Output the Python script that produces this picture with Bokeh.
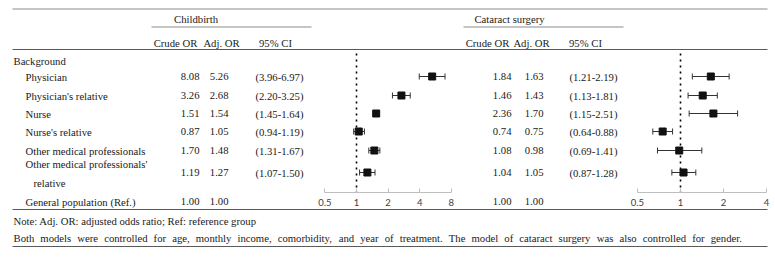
from bokeh.plotting import figure
from bokeh.models import Range1d, ColumnDataSource, FixedTicker, LogAxis, LogScale
from bokeh.core.properties import value
from bokeh.embed import file_html
from bokeh.resources import INLINE

# ---------------- data ----------------
row_labels = ["Physician", "Physician's relative", "Nurse", "Nurse's relative",
              "Other medical professionals", "Other medical professionals'\nrelative",
              "General population (Ref.)"]
cb_crude = [8.08, 3.26, 1.51, 0.87, 1.70, 1.19, 1.00]
cb_adj = [5.26, 2.68, 1.54, 1.05, 1.48, 1.27, 1.00]
cb_lo = [3.96, 2.20, 1.45, 0.94, 1.31, 1.07]
cb_hi = [6.97, 3.25, 1.64, 1.19, 1.67, 1.50]
ca_crude = [1.84, 1.46, 2.36, 0.74, 1.08, 1.04, 1.00]
ca_adj = [1.63, 1.43, 1.70, 0.75, 0.98, 1.05, 1.00]
ca_lo = [1.21, 1.13, 1.15, 0.64, 0.69, 0.87]
ca_hi = [2.19, 1.81, 2.51, 0.88, 1.41, 1.28]
cb_ticks = [0.5, 1, 2, 4, 8]
ca_ticks = [0.5, 1, 2, 4]
group_titles = ["Childbirth", "Cataract surgery"]
col_headers = ["Crude OR", "Adj. OR", "95% CI"]
section = "Background"
notes = ["Note: Adj. OR: adjusted odds ratio; Ref: reference group",
         "Both models were controlled for age, monthly income, comorbidity, and year of treatment. The model of cataract surgery was also controlled for gender."]

# ---------------- layout constants (page pixels) ----------------
W, H = 775, 257
FONT = value("Liberation Serif")
FS_PX = 10.7
FS = f"{FS_PX}px"
TXT = "#1a1a1a"
DARK = "#5a5a5a"
LIGHT = "#8c8c8c"
ROW_Y = [76, 95, 113, 131, 150, 172, 201]
LAB2_Y = (163, 182)
Y_GROUP, Y_HEAD, Y_SECTION = 18, 42, 60
Y_TOP, Y_SUB, Y_HEADLINE, Y_TABLEEND, Y_BOTTOM = 8.5, 26.5, 49, 209, 246
Y_NOTES = [220, 237]
X_LEFT, X_RIGHT = 12, 767
X_TEXT = 13
X_JUSTIFY_END = 742
Y_AXIS = 192
Y_REF_TOP = 53
CAP = 3

p = figure(width=W, height=H, output_backend="svg", toolbar_location=None,
           x_range=Range1d(0, W), y_range=Range1d(H, 0),
           x_axis_location=None, y_axis_location=None, min_border=0)
p.outline_line_color = None
p.grid.visible = False
p.background_fill_color = "white"
p.border_fill_color = "white"


def hline(x0, x1, y, color=DARK, width=1.1):
    p.segment(x0=[x0], y0=[y], x1=[x1], y1=[y], line_color=color, line_width=width)


def txt(xs, ys, texts, align="left"):
    src = ColumnDataSource(dict(x=xs, y=ys, t=texts))
    p.text(x="x", y="y", text="t", source=src, text_font=FONT, text_font_size=FS,
           text_color=TXT, text_align=align, text_baseline="middle")


# table rules
hline(X_LEFT, X_RIGHT, Y_TOP, LIGHT)
hline(151, 311, Y_SUB, LIGHT)
hline(463, 623, Y_SUB, LIGHT)
hline(X_LEFT, X_RIGHT, Y_HEADLINE)
hline(X_LEFT, X_RIGHT, Y_TABLEEND)
hline(X_LEFT, X_RIGHT, Y_BOTTOM)


def table_block(crude, adj, lo, hi, title, x_title, x_heads, x_crude, x_adj, x_ci):
    txt([x_title], [Y_GROUP], [title], "center")
    txt(list(x_heads), [Y_HEAD] * 3, col_headers, "center")
    n = len(crude)
    txt([x_crude] * n, ROW_Y, [f"{v:.2f}" for v in crude], "right")
    txt([x_adj] * n, ROW_Y, [f"{v:.2f}" for v in adj], "right")
    txt([x_ci] * len(lo), ROW_Y[:len(lo)],
        [f"({a:.2f}-{b:.2f})" for a, b in zip(lo, hi)], "right")


table_block(cb_crude, cb_adj, cb_lo, cb_hi, group_titles[0], 195.5, (175, 221, 275), 199, 228, 303)
table_block(ca_crude, ca_adj, ca_lo, ca_hi, group_titles[1], 509, (487, 531, 585), 511, 543, 617)

# row labels
txt([X_TEXT], [Y_SECTION], [section])
xs, ys, ts = [], [], []
for lab, y in zip(row_labels, ROW_Y):
    parts = lab.split("\n")
    if len(parts) == 1:
        xs.append(25); ys.append(y); ts.append(lab)
    else:
        xs += [25, 33]; ys += list(LAB2_Y); ts += parts
txt(xs, ys, ts)

# notes: first line natural, second line justified (Times metrics, 1/1000 em)
TIMES = {' ': 250, ',': 250, '.': 250, ':': 278, ';': 278, '(': 333, ')': 333, '-': 333, "'": 333,
         'A': 722, 'B': 667, 'C': 667, 'N': 722, 'O': 722, 'R': 667, 'T': 611,
         'a': 444, 'b': 500, 'c': 444, 'd': 500, 'e': 444, 'f': 333, 'g': 500, 'h': 500,
         'i': 278, 'j': 278, 'k': 500, 'l': 278, 'm': 778, 'n': 500, 'o': 500, 'p': 500,
         'q': 500, 'r': 333, 's': 389, 't': 278, 'u': 500, 'v': 500, 'w': 722, 'x': 500,
         'y': 500, 'z': 444}


def width_px(s):
    return sum(TIMES.get(c, 500) for c in s) * FS_PX / 1000.0


txt([X_TEXT], [Y_NOTES[0]], [notes[0]])
words = notes[1].split(" ")
ww = [width_px(w) for w in words]
gap = (X_JUSTIFY_END - X_TEXT - sum(ww)) / (len(words) - 1)
wx, x = [], X_TEXT
for w_ in ww:
    wx.append(x)
    x += w_ + gap
txt(wx, [Y_NOTES[1]] * len(words), words)


def forest(name, adj, lo, hi, ticks, px_one, px_per_doubling):
    start = 2 ** ((0 - px_one) / px_per_doubling)
    end = 2 ** ((W - px_one) / px_per_doubling)
    p.extra_x_ranges[name] = Range1d(start, end)
    p.extra_x_scales[name] = LogScale()
    ax = LogAxis(x_range_name=name, fixed_location=Y_AXIS)
    ax.ticker = FixedTicker(ticks=ticks, minor_ticks=[])
    ax.bounds = (ticks[0], ticks[-1])
    ax.major_label_overrides = {t: str(t) for t in ticks}
    ax.axis_line_color = "#bfbfbf"
    ax.major_tick_line_color = "#bfbfbf"
    ax.major_tick_in = 4
    ax.major_tick_out = 0
    ax.minor_tick_line_color = None
    ax.major_label_standoff = 6
    ax.major_label_text_font = "Lato"
    ax.major_label_text_font_size = "9.5px"
    ax.major_label_text_color = "#404040"
    p.add_layout(ax, "below")
    # reference line at OR = 1
    p.segment(x0=[1], y0=[Y_REF_TOP], x1=[1], y1=[Y_AXIS], x_range_name=name,
              line_color="black", line_dash="dotted", line_width=1.6)
    n = len(lo)
    ys_ = ROW_Y[:n]
    src = ColumnDataSource(dict(y=ys_, m=adj[:n], lo=lo, hi=hi,
                                yt=[y - CAP for y in ys_], yb=[y + CAP for y in ys_]))
    for x0, x1, y0, y1 in (("lo", "hi", "y", "y"), ("lo", "lo", "yt", "yb"), ("hi", "hi", "yt", "yb")):
        p.segment(x0=x0, y0=y0, x1=x1, y1=y1, source=src, x_range_name=name,
                  line_color="#333333", line_width=1)
    p.scatter(x="m", y="y", source=src, x_range_name=name, marker="square", size=7,
              fill_color="#111111", line_color="#111111")


forest("f1", cb_adj, cb_lo, cb_hi, cb_ticks, 356, 31.6)
forest("f2", ca_adj, ca_lo, ca_hi, ca_ticks, 680, 43)

open("out.html", "w").write(file_html(p, INLINE))
